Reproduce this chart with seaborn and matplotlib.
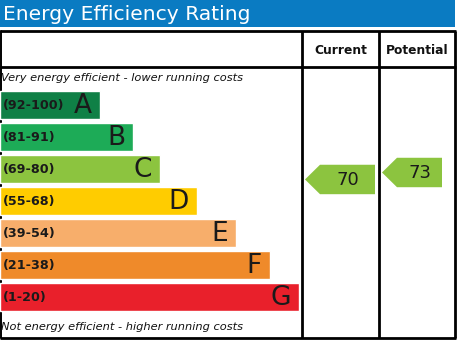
import matplotlib
matplotlib.use("Agg")
import matplotlib.pyplot as plt
from matplotlib.patches import Polygon, Rectangle
import seaborn as sns

# Rating bands, top (most efficient) to bottom
band_letters = ["A", "B", "C", "D", "E", "F", "G"]
band_ranges = ["(92-100)", "(81-91)", "(69-80)", "(55-68)", "(39-54)", "(21-38)", "(1-20)"]
band_low = [92, 81, 69, 55, 39, 21, 1]
band_high = [100, 91, 80, 68, 54, 38, 20]
band_lengths = [100, 133, 160, 197, 236, 270, 299]
band_colors = ["#0f8046", "#1dab57", "#8cc43f", "#ffcc00", "#f7ae6b", "#ef8a2a", "#e9202b"]

# Ratings shown in the two right-hand columns
column_titles = ["Current", "Potential"]
ratings = [70, 73]

W, H = 458, 340
sns.set_theme(style="white")
plt.rcParams["font.family"] = ["DejaVu Sans"]

fig = plt.figure(figsize=(W / 100, H / 100), dpi=100)

# Pixel-space frame axes for the title bar, table lines and captions
ax = fig.add_axes([0, 0, 1, 1])
ax.set_xlim(0, W)
ax.set_ylim(H, 0)
ax.axis("off")

ax.add_patch(Rectangle((0, 0), 455, 27, color="#0a7bc2", lw=0))
ax.text(3, 14, "Energy Efficiency Rating", color="white", fontsize=14.6,
        va="center", ha="left")

line_kw = dict(color="black", lw=2, solid_capstyle="butt")
ax.plot([0, 456], [31, 31], **line_kw)
ax.plot([0, 456], [67, 67], **line_kw)
ax.plot([0, 456], [338, 338], **line_kw)
ax.plot([0.7, 0.7], [31, 338], color="black", lw=1.4)
ax.plot([455, 455], [31, 338], **line_kw)
col_edges = [302, 379, 455]
for x in col_edges[:2]:
    ax.plot([x, x], [31, 338], **line_kw)

for i, title in enumerate(column_titles):
    ax.text((col_edges[i] + col_edges[i + 1]) / 2 + 0.5, 50, title, fontsize=8.8,
            fontweight="bold", ha="center", va="center", color="#111111")

ax.text(1, 78, "Very energy efficient - lower running costs", fontsize=8.2,
        style="italic", ha="left", va="center", color="#111111")
ax.text(1, 327, "Not energy efficient - higher running costs", fontsize=8.2,
        style="italic", ha="left", va="center", color="#111111")

# Band bars drawn with seaborn on their own axes (one category per row)
top_px, bottom_px = 89, 313
axb = fig.add_axes([0, (H - bottom_px) / H, 1, (bottom_px - top_px) / H])
sns.barplot(x=band_lengths, y=band_ranges, hue=band_ranges, palette=band_colors,
            orient="h", width=0.875, legend=False, saturation=1, ax=axb)
axb.set_xlim(0, W)
axb.set_ylim(len(band_letters) - 0.5, -0.5)
axb.axis("off")
axb.patch.set_alpha(0)

for i, (rng, letter, length) in enumerate(zip(band_ranges, band_letters, band_lengths)):
    axb.text(3, i, rng, fontsize=9.2, fontweight="bold", ha="left", va="center",
             color="#1a1a1a")
    axb.text(length - 8, i + 0.04, letter, fontsize=19, ha="right", va="center",
             color="#1a1a1a")


def rating_row(value):
    """Vertical position of a rating inside its band (higher values sit higher)."""
    for i, (lo, hi) in enumerate(zip(band_low, band_high)):
        if lo <= value <= hi:
            return i + 0.4 - (value - lo) / (hi - lo) * 0.8
    return len(band_low) - 1


arrow_spans = [(305, 375), (382, 442)]
arrow_h = 0.46
tip = 15
for value, (x0, x1) in zip(ratings, arrow_spans):
    yc = rating_row(value)
    band_idx = next(i for i, (lo, hi) in enumerate(zip(band_low, band_high)) if lo <= value <= hi)
    poly = Polygon([(x0, yc), (x0 + tip, yc - arrow_h), (x1, yc - arrow_h),
                    (x1, yc + arrow_h), (x0 + tip, yc + arrow_h)], closed=True,
                   facecolor=band_colors[band_idx], edgecolor="none", clip_on=False)
    axb.add_patch(poly)
    axb.text((x0 + tip + x1) / 2, yc + 0.02, str(value), fontsize=13,
             ha="center", va="center", color="#1a1a1a")

fig.savefig("out.png", dpi=100)
